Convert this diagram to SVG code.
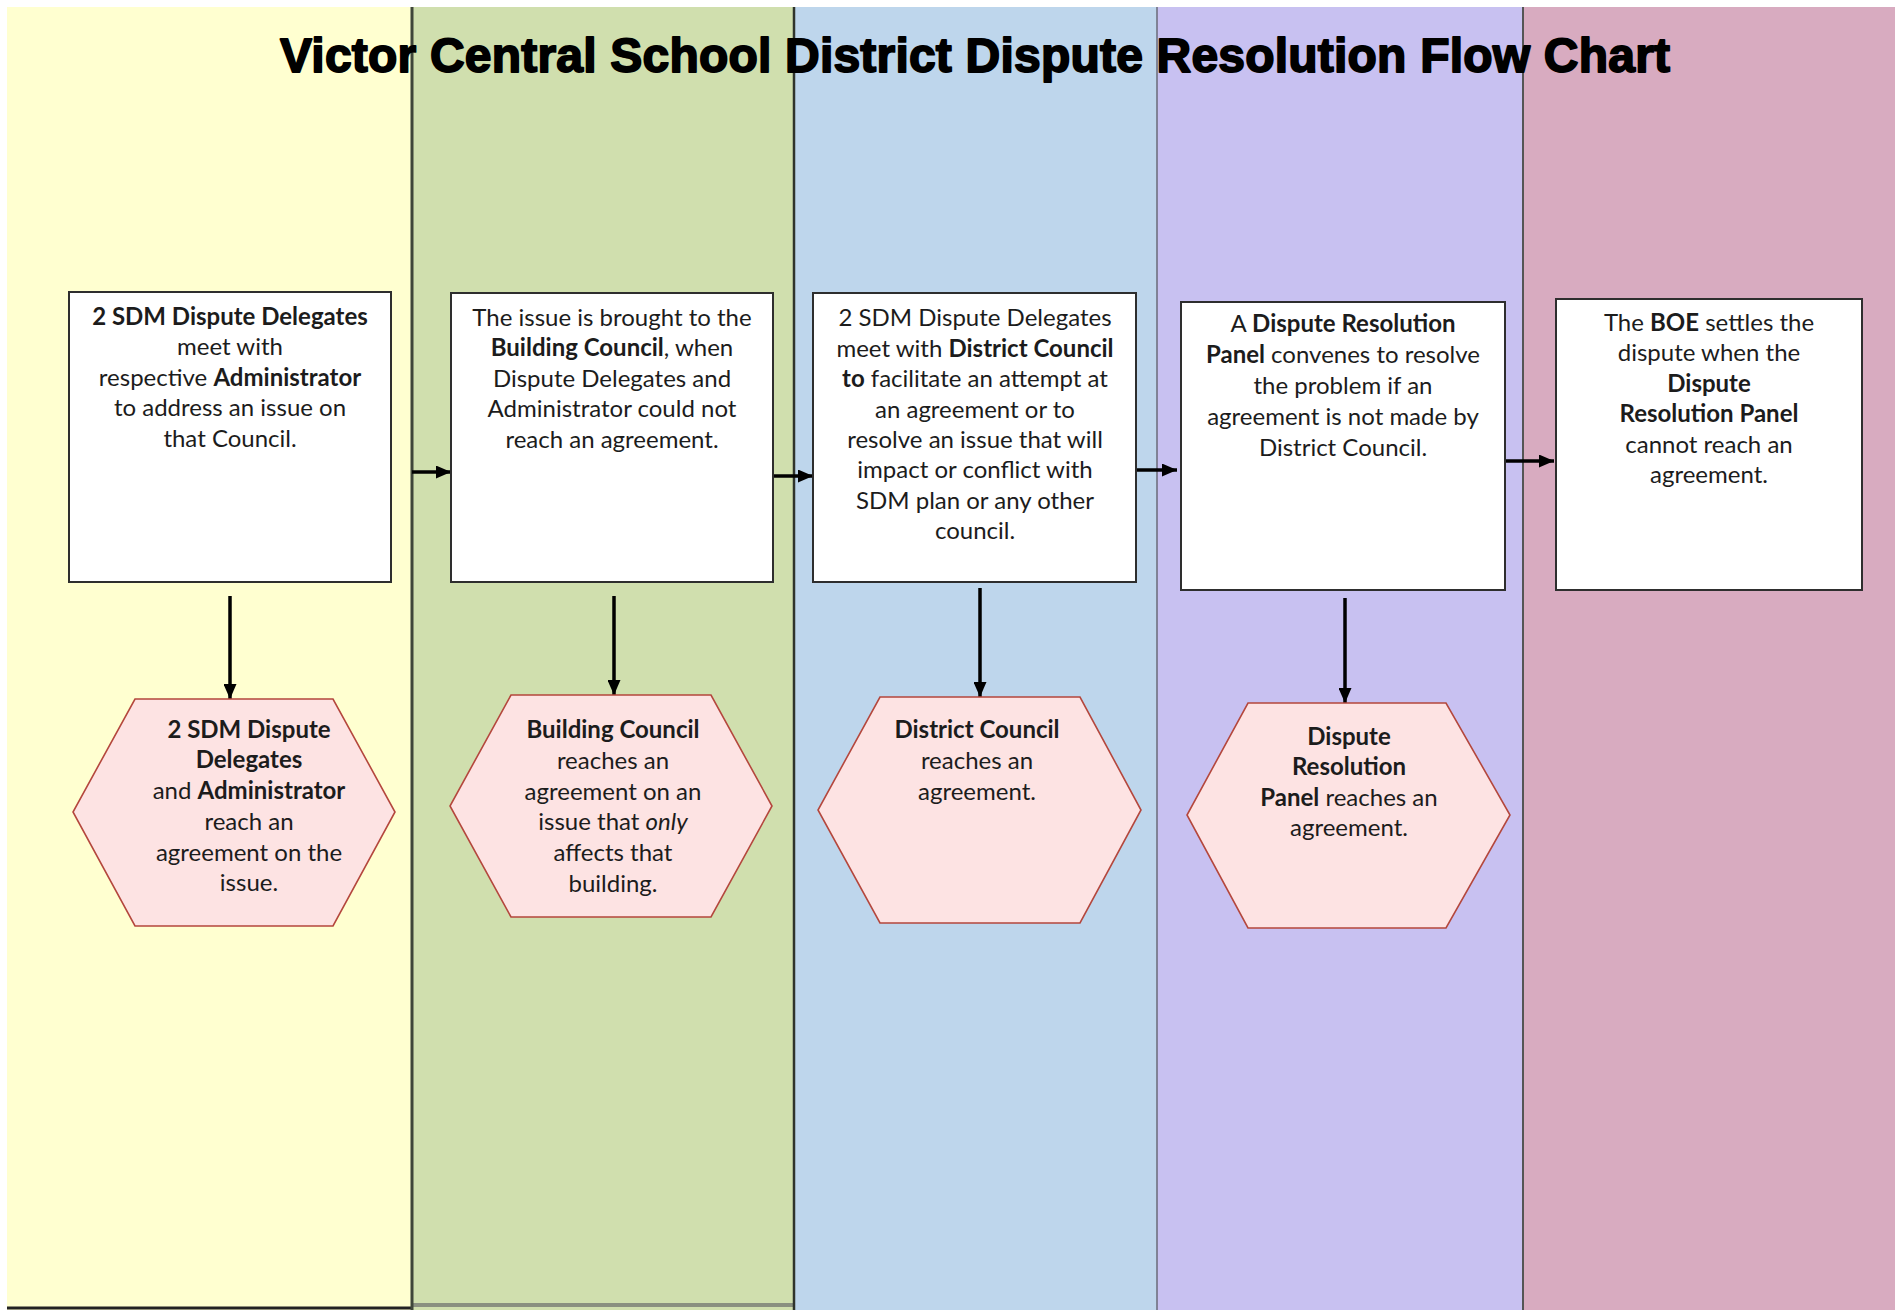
<svg xmlns="http://www.w3.org/2000/svg" width="1895" height="1310" viewBox="0 0 1895 1310">
<defs>
<style>
.t{font-family:Lato,"Open Sans",sans-serif;font-size:24px;fill:#1c1c1c;text-anchor:middle}
.b{font-weight:bold}
.i{font-style:italic}
.box{fill:#ffffff;stroke:#2e2e2e;stroke-width:2}
.hex{fill:#fde3e3;stroke:#b4473d;stroke-width:1.6}
.conn{stroke:#000;stroke-width:3.5;fill:none;marker-end:url(#ah)}
.title{font-family:"Liberation Sans",Arial,sans-serif;font-weight:bold;font-size:48px;fill:#000;stroke:#000;stroke-width:1.8;stroke-linejoin:round}
</style>
<marker id="ah" markerUnits="userSpaceOnUse" markerWidth="15" markerHeight="13" refX="15" refY="6.5" orient="auto">
<path d="M0,0 L15,6.5 L0,13 z" fill="#000"/>
</marker>
</defs>
<rect x="0" y="0" width="1895" height="1310" fill="#ffffff"/>
<g id="lanes">
<rect x="7" y="7" width="404" height="1303" fill="#ffffd0"/>
<rect x="411" y="7" width="383" height="1303" fill="#d0dfae"/>
<rect x="794" y="7" width="363" height="1303" fill="#bed6ec"/>
<rect x="1157" y="7" width="366" height="1303" fill="#c8c1f1"/>
<rect x="1523" y="7" width="372" height="1303" fill="#d8abc0"/>
<line x1="7" y1="1308" x2="411" y2="1308" stroke="#222" stroke-width="3"/>
<line x1="411" y1="1305" x2="794" y2="1305" stroke="#8a9080" stroke-width="4"/>
<line x1="412" y1="7" x2="412" y2="1310" stroke="#3f463a" stroke-width="3"/>
<line x1="794" y1="7" x2="794" y2="1310" stroke="#2f342c" stroke-width="2.5"/>
<line x1="1157" y1="7" x2="1157" y2="1310" stroke="#6a6a78" stroke-width="1.5"/>
<line x1="1523" y1="7" x2="1523" y2="1310" stroke="#555" stroke-width="2"/>
</g>
<text class="title" x="280" y="72" textLength="1390">Victor Central School District Dispute Resolution Flow Chart</text>
<g id="connectors">
<line class="conn" x1="412" y1="472" x2="451" y2="472"/>
<line class="conn" x1="773" y1="476" x2="813" y2="476"/>
<line class="conn" x1="1136" y1="470" x2="1177" y2="470"/>
<line class="conn" x1="1506" y1="461" x2="1554" y2="461"/>
<line class="conn" x1="230" y1="596" x2="230" y2="699"/>
<line class="conn" x1="614" y1="596" x2="614" y2="695"/>
<line class="conn" x1="980" y1="588" x2="980" y2="697"/>
<line class="conn" x1="1345" y1="598" x2="1345" y2="703"/>
</g>
<g id="box1">
<rect class="box" x="69" y="292" width="322" height="290"/>
<text class="t" x="230" y="325"><tspan class="b">2 SDM Dispute Delegates</tspan></text>
<text class="t" x="230" y="355">meet with</text>
<text class="t" x="230" y="386">respective <tspan class="b">Administrator</tspan></text>
<text class="t" x="230" y="416">to address an issue on</text>
<text class="t" x="230" y="447">that Council.</text>
</g>
<g id="box2">
<rect class="box" x="451" y="293" width="322" height="289"/>
<text class="t" x="612" y="326">The issue is brought to the</text>
<text class="t" x="612" y="356"><tspan class="b">Building Council</tspan>, when</text>
<text class="t" x="612" y="387">Dispute Delegates and</text>
<text class="t" x="612" y="417">Administrator could not</text>
<text class="t" x="612" y="448">reach an agreement.</text>
</g>
<g id="box3">
<rect class="box" x="813" y="293" width="323" height="289"/>
<text class="t" x="975" y="326">2 SDM Dispute Delegates</text>
<text class="t" x="975" y="357">meet with <tspan class="b">District Council</tspan></text>
<text class="t" x="975" y="387"><tspan class="b">to</tspan> facilitate an attempt at</text>
<text class="t" x="975" y="418">an agreement or to</text>
<text class="t" x="975" y="448">resolve an issue that will</text>
<text class="t" x="975" y="478">impact or conflict with</text>
<text class="t" x="975" y="509">SDM plan or any other</text>
<text class="t" x="975" y="539">council.</text>
</g>
<g id="box4">
<rect class="box" x="1181" y="302" width="324" height="288"/>
<text class="t" x="1343" y="332">A <tspan class="b">Dispute Resolution</tspan></text>
<text class="t" x="1343" y="363"><tspan class="b">Panel</tspan> convenes to resolve</text>
<text class="t" x="1343" y="394">the problem if an</text>
<text class="t" x="1343" y="425">agreement is not made by</text>
<text class="t" x="1343" y="456">District Council.</text>
</g>
<g id="box5">
<rect class="box" x="1556" y="299" width="306" height="291"/>
<text class="t" x="1709" y="331">The <tspan class="b">BOE</tspan> settles the</text>
<text class="t" x="1709" y="361">dispute when the</text>
<text class="t" x="1709" y="392"><tspan class="b">Dispute</tspan></text>
<text class="t" x="1709" y="422"><tspan class="b">Resolution Panel</tspan></text>
<text class="t" x="1709" y="453">cannot reach an</text>
<text class="t" x="1709" y="483">agreement.</text>
</g>
<g id="hex1">
<polygon class="hex" points="135,699 333,699 395,812 333,926 135,926 73,812"/>
<text class="t" x="249" y="738"><tspan class="b">2 SDM Dispute</tspan></text>
<text class="t" x="249" y="768"><tspan class="b">Delegates</tspan></text>
<text class="t" x="249" y="799">and <tspan class="b">Administrator</tspan></text>
<text class="t" x="249" y="830">reach an</text>
<text class="t" x="249" y="861">agreement on the</text>
<text class="t" x="249" y="891">issue.</text>
</g>
<g id="hex2">
<polygon class="hex" points="511,695 711,695 772,806 711,917 511,917 450,806"/>
<text class="t" x="613" y="738"><tspan class="b">Building Council</tspan></text>
<text class="t" x="613" y="769">reaches an</text>
<text class="t" x="613" y="800">agreement on an</text>
<text class="t" x="613" y="830">issue that <tspan class="i">only</tspan></text>
<text class="t" x="613" y="861">affects that</text>
<text class="t" x="613" y="892">building.</text>
</g>
<g id="hex3">
<polygon class="hex" points="880,697 1080,697 1141,810 1080,923 880,923 818,810"/>
<text class="t" x="977" y="738"><tspan class="b">District Council</tspan></text>
<text class="t" x="977" y="769">reaches an</text>
<text class="t" x="977" y="800">agreement.</text>
</g>
<g id="hex4">
<polygon class="hex" points="1248,703 1446,703 1510,815 1446,928 1248,928 1187,815"/>
<text class="t" x="1349" y="745"><tspan class="b">Dispute</tspan></text>
<text class="t" x="1349" y="775"><tspan class="b">Resolution</tspan></text>
<text class="t" x="1349" y="806"><tspan class="b">Panel</tspan> reaches an</text>
<text class="t" x="1349" y="836">agreement.</text>
</g>
</svg>
